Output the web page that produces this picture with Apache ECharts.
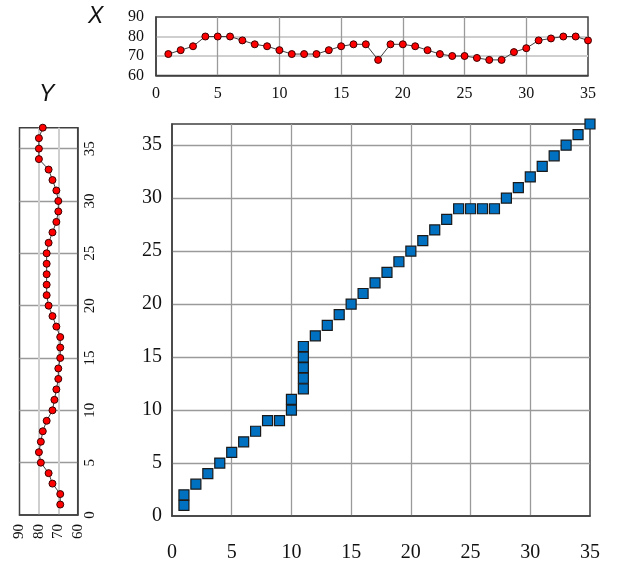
<!DOCTYPE html>
<html>
<head>
<meta charset="utf-8">
<script src="https://cdn.jsdelivr.net/npm/echarts@6/dist/echarts.min.js"></script>
<style>html,body{margin:0;padding:0;background:#fff;}#c{width:617px;height:563px;}</style>
</head>
<body>
<div id="c"></div>
<script>
// Top profile (X): position 1..35 and value
const topIndex = [1,2,3,4,5,6,7,8,9,10,11,12,13,14,15,16,17,18,19,20,21,22,23,24,25,26,27,28,29,30,31,32,33,34,35];
const topValues = [71,73,75,80,80,80,78,76,75,73,71,71,71,73,75,76,76,68,76,76,75,73,71,70,70,69,68,68,72,74,78,79,80,80,78];
// Left profile (Y): position 1..37 and value
const leftIndex = [1,2,3,4,5,6,7,8,9,10,11,12,13,14,15,16,17,18,19,20,21,22,23,24,25,26,27,28,29,30,31,32,33,34,35,36,37];
const leftValues = [69,69,73,75,79,80,79,78,76,73,72,71,70,70,69,69,69,71,73,75,76,76,76,76,76,75,73,71,70,70,71,73,75,80,80,80,78];
// Main path: pairs (x, y)
const mainX = [1,1,2,3,4,5,6,7,8,9,10,10,11,11,11,11,11,12,13,14,15,16,17,18,19,20,21,22,23,24,25,26,27,28,29,30,31,32,33,34,35];
const mainY = [1,2,3,4,5,6,7,8,9,9,10,11,12,13,14,15,16,17,18,19,20,21,22,23,24,25,26,27,28,29,29,29,29,30,31,32,33,34,35,36,37];
// Titles and ticks
const titleX = 'X';
const titleY = 'Y';
const profileMin = 60, profileMax = 90, profileStep = 10;
const posStep = 5;

const serif = 'Liberation Serif';
const border = '#404040';
const darkGrid = '#9a9a9a';
const lightGrid = '#cfcfcf';
const lab5 = v => (v % 5 === 0 ? String(v) : '');

const chart = echarts.init(document.getElementById('c'), null, {renderer: 'canvas'});
chart.setOption({
  animation: false,
  backgroundColor: '#fff',
  graphic: [
    {type: 'text', left: 88, top: 5, style: {text: titleX, font: 'italic 23px "Liberation Sans"', fill: '#111'}},
    {type: 'text', left: 39, top: 83, style: {text: titleY, font: 'italic 23px "Liberation Sans"', fill: '#111'}}
  ],
  grid: [
    {left: 172, top: 124, width: 418, height: 392, show: true, borderColor: border, borderWidth: 1.5, containLabel: false},
    {left: 156, top: 17, width: 432, height: 58.5, show: true, borderColor: border, borderWidth: 1.5, containLabel: false},
    {left: 19.5, top: 127.7, width: 58.2, height: 387.3, show: true, borderColor: border, borderWidth: 1.5, containLabel: false}
  ],
  xAxis: [
    {gridIndex: 0, type: 'value', min: 0, max: 35, interval: posStep,
      axisLine: {show: true, onZero: false, lineStyle: {color: border, width: 1.5}}, axisTick: {show: false},
      axisLabel: {fontFamily: serif, fontSize: 20, color: '#111', margin: 27, formatter: lab5},
      splitLine: {show: true, showMinLine: false, showMaxLine: false, lineStyle: {color: darkGrid, width: 1.3}}},
    {gridIndex: 1, type: 'value', min: 0, max: 35, interval: posStep,
      axisLine: {show: true, onZero: false, lineStyle: {color: border, width: 1.5}}, axisTick: {show: false},
      axisLabel: {fontFamily: serif, fontSize: 16, color: '#111', margin: 10, formatter: lab5},
      splitLine: {show: true, showMinLine: false, showMaxLine: false, lineStyle: {color: darkGrid, width: 1.3}}},
    {gridIndex: 2, type: 'value', min: profileMin, max: profileMax, interval: profileStep, inverse: true,
      axisLine: {show: true, onZero: false, lineStyle: {color: border, width: 1.5}}, axisTick: {show: false},
      axisLabel: {fontFamily: serif, fontSize: 15, color: '#111', margin: 9, rotate: 90},
      splitLine: {show: true, showMinLine: false, showMaxLine: false, lineStyle: {color: lightGrid, width: 2}}}
  ],
  yAxis: [
    {gridIndex: 0, type: 'value', min: 0, max: 37, interval: posStep,
      axisLine: {show: true, onZero: false, lineStyle: {color: border, width: 1.5}}, axisTick: {show: false},
      axisLabel: {fontFamily: serif, fontSize: 20, color: '#111', margin: 10, formatter: lab5},
      splitLine: {show: true, showMinLine: false, showMaxLine: false, lineStyle: {color: darkGrid, width: 1.3}}},
    {gridIndex: 1, type: 'value', min: profileMin, max: profileMax, interval: profileStep,
      axisLine: {show: true, onZero: false, lineStyle: {color: border, width: 1.5}}, axisTick: {show: false},
      axisLabel: {fontFamily: serif, fontSize: 16, color: '#111', margin: 12},
      splitLine: {show: true, showMinLine: false, showMaxLine: false, lineStyle: {color: lightGrid, width: 2}}},
    {gridIndex: 2, type: 'value', min: 0, max: 37, interval: posStep, position: 'right',
      axisLine: {show: true, onZero: false, lineStyle: {color: border, width: 1.5}}, axisTick: {show: false},
      axisLabel: {fontFamily: serif, fontSize: 15, color: '#111', margin: 5, rotate: 90, formatter: lab5},
      splitLine: {show: true, showMinLine: false, showMaxLine: false, lineStyle: {color: darkGrid, width: 1.3}}}
  ],
  series: [
    {type: 'scatter', xAxisIndex: 0, yAxisIndex: 0, symbol: 'rect', symbolSize: 10,
      data: mainX.map((x, i) => [x, mainY[i]]),
      itemStyle: {color: '#0070C0', borderColor: '#1a1a1a', borderWidth: 1.2, opacity: 1}, z: 5},
    {type: 'line', xAxisIndex: 1, yAxisIndex: 1, symbol: 'circle', symbolSize: 7,
      data: topIndex.map((x, i) => [x, topValues[i]]),
      lineStyle: {color: '#404040', width: 1},
      itemStyle: {color: '#ff0000', borderColor: '#3a0000', borderWidth: 1}, z: 5},
    {type: 'line', xAxisIndex: 2, yAxisIndex: 2, symbol: 'circle', symbolSize: 7,
      data: leftIndex.map((y, i) => [leftValues[i], y]),
      lineStyle: {color: '#404040', width: 1},
      itemStyle: {color: '#ff0000', borderColor: '#3a0000', borderWidth: 1}, z: 5}
  ]
});
</script>
</body>
</html>
